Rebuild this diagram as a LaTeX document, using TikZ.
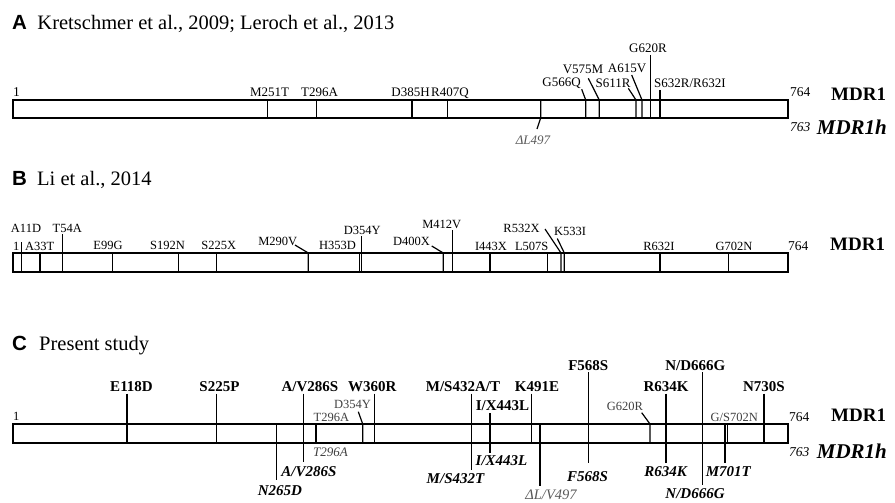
\documentclass[tikz,border=0pt]{standalone}
\usepackage{fontspec}
\setmainfont{Liberation Serif}
\newfontfamily\panelfont{Liberation Sans}
\begin{document}
\begin{tikzpicture}[x=1pt,y=-1pt,
  bar/.style={line width=1.6pt},
  mut/.style={line width=1.2pt},
  lbl/.style={anchor=base, inner sep=0pt},
  pletter/.style={anchor=base west, inner sep=0pt, font=\panelfont\bfseries\fontsize{20.5}{23}\selectfont},
  ptitle/.style={anchor=base west, inner sep=0pt, font=\fontsize{20.5}{23}\selectfont},
  fA/.style={lbl, font=\fontsize{13}{15}\selectfont},
  fB/.style={lbl, font=\fontsize{12.5}{14}\selectfont},
  fCb/.style={lbl, font=\bfseries\fontsize{15}{17}\selectfont},
  fCs/.style={lbl, text=black!75, font=\fontsize{12.5}{14}\selectfont},
  fCi/.style={lbl, font=\bfseries\itshape\fontsize{15}{17}\selectfont},
  fCit/.style={lbl, font=\itshape\fontsize{13}{15}\selectfont},
  gray/.style={text=black!65},
  num/.style={anchor=base west, inner sep=0pt, font=\fontsize{13.5}{15}\selectfont},
  numi/.style={anchor=base west, inner sep=0pt, font=\itshape\fontsize{13.5}{15}\selectfont},
  gene/.style={anchor=base west, inner sep=0pt, font=\bfseries\fontsize{19}{21}\selectfont},
  genei/.style={anchor=base west, inner sep=0pt, font=\bfseries\itshape\fontsize{21}{23}\selectfont}
]
\useasboundingbox (0,0) rectangle (895,503);

% ================= Panel A =================
\node[pletter] (lA) at (12,30) {A};
\node[ptitle] (tA) at (37.3,30) {Kretschmer et al., 2009; Leroch et al., 2013};
\draw[bar] (13,100) rectangle (788,118);
\node[num] (oneA) at (13,96) {1};
\node[num] (endA) at (790,96.7) {764};
\node[gene] (gA) at (831,100) {MDR1};
\node[numi] (endAh) at (790,131.7) {763};
\node[genei] (gAh) at (816.7,135) {MDR1h};

\node[fA] (a1) at (269.5,96) {M251T};
\node[fA] (a2) at (319.5,96) {T296A};
\node[fA] (a3) at (410.5,96) {D385H};
\node[fA] (a4) at (450,96) {R407Q};
\node[fA] (a5) at (561.5,86.7) {G566Q};
\node[fA] (a6) at (583,73.3) {V575M};
\node[fA] (a7) at (613,87.7) {S611R};
\node[fA] (a8) at (627,73) {A615V};
\node[fA] (a9) at (648,53) {G620R};
\node[fA, anchor=base west] (a10) at (654,87.7) {S632R/R632I};
\node[fCit, gray] (a11) at (533,144) {ΔL497};

\foreach \x in {267.7,316.7,412,447.5} \draw[mut] (\x,100) -- (\x,118);
\draw[mut] (581.7,89.3) -- (585.7,100) -- (585.7,118);
\draw[mut] (588.3,78.3) -- (599.3,100) -- (599.3,118);
\draw[mut] (628.3,88.3) -- (636,100) -- (636,118);
\draw[mut] (631.7,75) -- (642,100) -- (642,118);
\draw[mut] (650.7,55) -- (650.7,118);
\draw[mut] (660,90) -- (660,118);
\draw[mut] (540.7,100) -- (540.7,118) -- (537,129);

% ================= Panel B =================
\node[pletter] (lB) at (12,185) {B};
\node[ptitle] (tB) at (37,185) {Li et al., 2014};
\draw[bar] (13,253) rectangle (788,272);
\node[fB, anchor=base west] (oneB) at (13,250) {1};
\node[num] (endB) at (788,250) {764};
\node[gene] (gB) at (830,250) {MDR1};

\node[fB] (b1) at (26,232) {A11D};
\node[fB] (b2) at (39.7,250) {A33T};
\node[fB] (b3) at (67.3,232) {T54A};
\node[fB] (b4) at (108,249) {E99G};
\node[fB] (b5) at (167.5,249) {S192N};
\node[fB] (b6) at (218.7,249) {S225X};
\node[fB] (b7) at (277.8,245) {M290V};
\node[fB] (b8) at (337.5,249) {H353D};
\node[fB] (b9) at (362.3,234) {D354Y};
\node[fB] (b10) at (411.5,245) {D400X};
\node[fB] (b11) at (441.7,228) {M412V};
\node[fB] (b12) at (491,250) {I443X};
\node[fB] (b13) at (531.7,250) {L507S};
\node[fB] (b14) at (521.5,232) {R532X};
\node[fB] (b15) at (570,235) {K533I};
\node[fB] (b16) at (659,250) {R632I};
\node[fB] (b17) at (734,250) {G702N};

\foreach \x in {40,112.7,178.3,216.7,359.3,490,547.3,660,728.7} \draw[mut] (\x,253) -- (\x,272);
\draw[mut] (21.7,242) -- (21.7,272);
\draw[mut] (62.3,234) -- (62.3,272);
\draw[mut] (361.7,236) -- (361.7,272);
\draw[mut] (452.7,230) -- (452.7,272);
\draw[mut] (295,245) -- (308.3,253) -- (308.3,272);
\draw[mut] (431.7,246) -- (443.3,253) -- (443.3,272);
\draw[mut] (545,229) -- (561,253) -- (561,272);
\draw[mut] (557.3,238.5) -- (564.3,253) -- (564.3,272);

% ================= Panel C =================
\node[pletter] (lC) at (12,350) {C};
\node[ptitle] (tC) at (39,350) {Present study};
\draw[bar] (13,424) rectangle (788,443);
\node[fCs, text=black, anchor=base west] (oneC) at (13,420) {1};
\node[num] (endC) at (789,421.7) {764};
\node[gene] (gC) at (831,421.7) {MDR1};
\node[numi] (endCh) at (789,456.7) {763};
\node[genei] (gCh) at (816.7,458) {MDR1h};

% above
\node[fCb] (c1) at (131.5,391.7) {E118D};
\node[fCb] (c2) at (219.5,391.7) {S225P};
\node[fCb] (c3) at (310,391.7) {A/V286S};
\node[fCs, anchor=base west] (c4) at (313.5,421.7) {T296A};
\node[fCs] (c5) at (352.5,408) {D354Y};
\node[fCb] (c6) at (372.3,391.7) {W360R};
\node[fCb] (c7) at (463,391.7) {M/S432A/T};
\node[fCb] (c8) at (502.5,410) {I/X443L};
\node[fCb] (c9) at (537,391.7) {K491E};
\node[fCb] (c10) at (588.3,370) {F568S};
\node[fCs] (c11) at (625,410) {G620R};
\node[fCb] (c12) at (666,391.7) {R634K};
\node[fCb] (c13) at (695.3,370) {N/D666G};
\node[fCs] (c14) at (734.3,421.7) {G/S702N};
\node[fCb] (c15) at (764,391.7) {N730S};
% below
\node[fCit, text=black!75, anchor=base west] (d1) at (313,456.7) {T296A};
\node[fCi] (d2) at (309,476.7) {A/V286S};
\node[fCi] (d3) at (280,495) {N265D};
\node[fCi] (d4) at (455.5,483.3) {M/S432T};
\node[fCi] (d5) at (501.5,465) {I/X443L};
\node[lbl, gray, font=\itshape\fontsize{14.5}{16}\selectfont] (d6) at (551,499) {ΔL/V497};
\node[fCi] (d7) at (587.5,481.7) {F568S};
\node[fCi] (d8) at (665.5,476.7) {R634K};
\node[fCi] (d9) at (728.3,476.7) {M701T};
\node[fCi] (d10) at (695,498.3) {N/D666G};

\draw[mut] (127,393.5) -- (127,443);
\draw[mut] (216.7,393.5) -- (216.7,443);
\draw[mut] (303.3,393.5) -- (303.3,462);
\draw[mut] (276.7,424) -- (276.7,480);
\draw[mut] (316,424) -- (316,443);
\draw[mut] (358.3,411.7) -- (362.7,424) -- (362.7,443);
\draw[mut] (374.3,393.5) -- (374.3,443);
\draw[mut] (471.7,393.5) -- (471.7,470);
\draw[mut] (490,413.3) -- (490,453.3);
\draw[mut] (531.7,393.5) -- (531.7,443);
\draw[mut] (540,424) -- (540,486);
\draw[mut] (588.3,372) -- (588.3,463.3);
\draw[mut] (641.7,412.7) -- (650,424) -- (650,443);
\draw[mut] (666,393.5) -- (666,463.3);
\draw[mut] (702.3,372) -- (702.3,485);
\draw[mut] (725,424) -- (725,463.3);
\draw[mut] (727.5,424) -- (727.5,443);
\draw[mut] (764,393.5) -- (764,443);
\end{tikzpicture}
\end{document}
